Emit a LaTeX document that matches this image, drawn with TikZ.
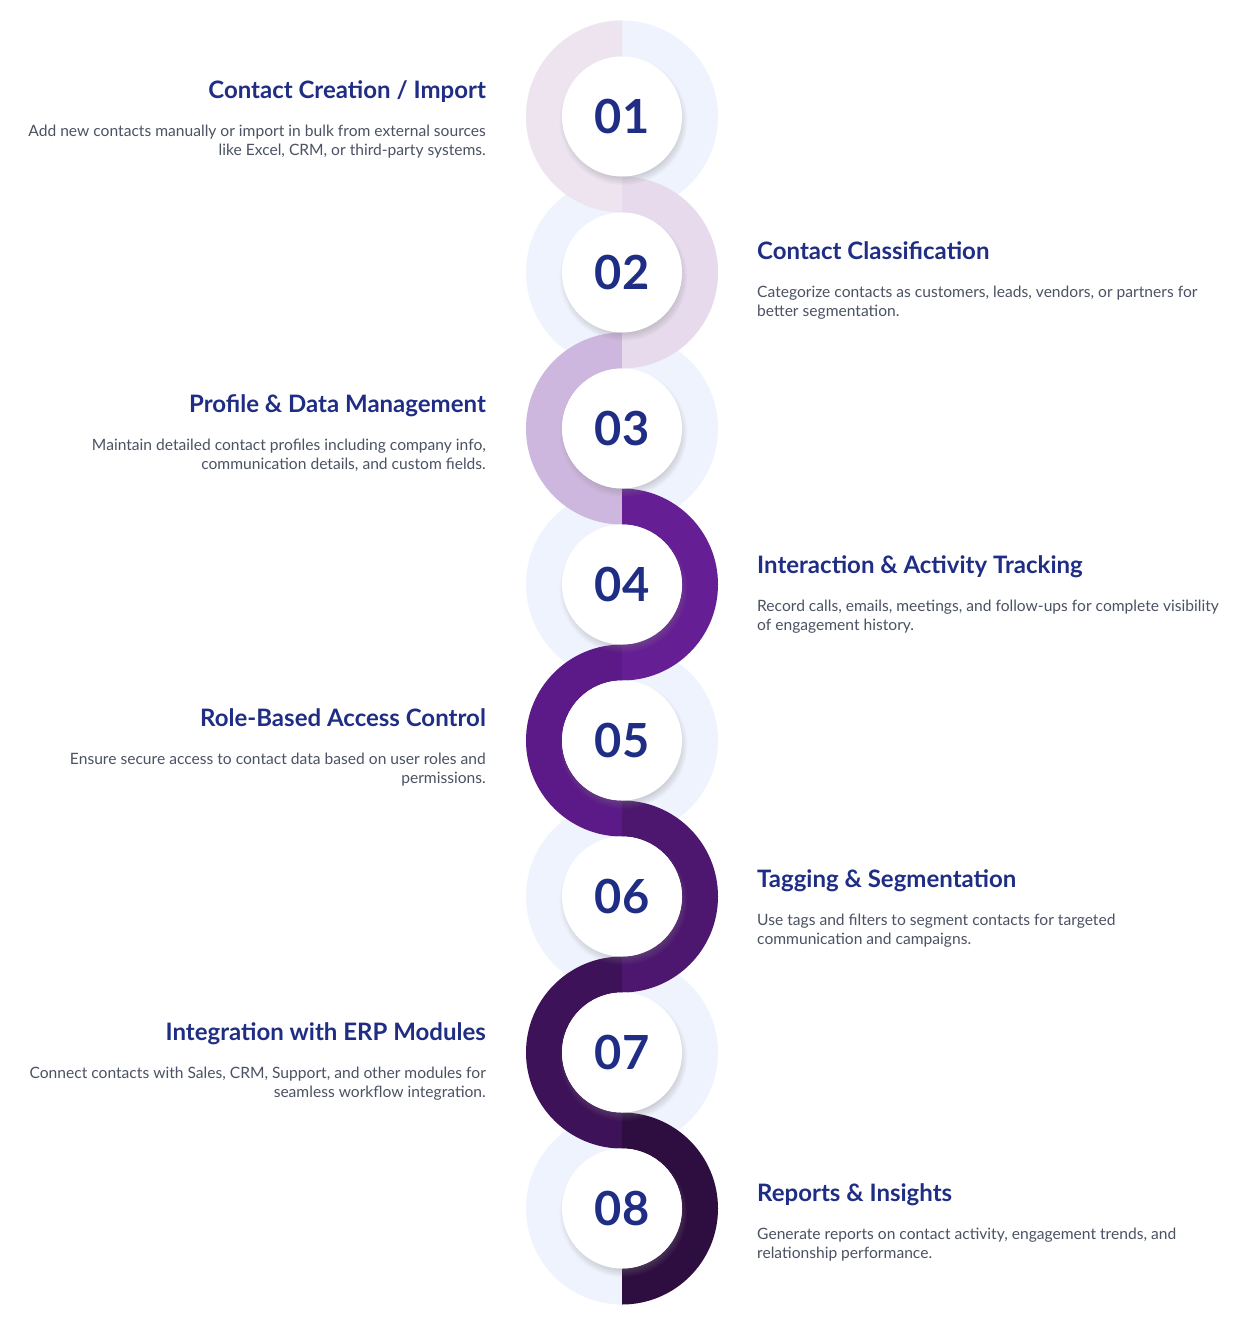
\documentclass[tikz,border=0pt]{standalone}
\usepackage{fontspec}
\setmainfont{Lato}
\usetikzlibrary{shadows,fadings}
\definecolor{pale}{HTML}{EFF3FD}
\definecolor{cA}{HTML}{EDE4F0}
\definecolor{cB}{HTML}{E6DAEC}
\definecolor{cC}{HTML}{CEB7DE}
\definecolor{cD}{HTML}{661E94}
\definecolor{cE}{HTML}{5B1A87}
\definecolor{cF}{HTML}{4D1770}
\definecolor{cG}{HTML}{3E1259}
\definecolor{cH}{HTML}{2E0E40}
\definecolor{navy}{HTML}{1F2E84}
\definecolor{bodygray}{HTML}{4B5263}
\begin{document}
\begin{tikzpicture}[x=1pt,y=1pt,
  numcircle/.style={circle, fill=white, minimum size=120pt, inner sep=0pt,
    font=\fontsize{47}{47}\selectfont\bfseries, text=navy,
    circular drop shadow={shadow xshift=1pt, shadow yshift=-4pt, shadow scale=1.07, opacity=0.35}},
  titletext/.style={inner sep=0pt, font=\fontsize{24}{28}\selectfont\bfseries, text=navy},
  bodytext/.style={inner sep=0pt, font=\fontsize{15.6}{19.5}\selectfont, text=bodygray},
]
\fill[white] (0,0) rectangle (1243,-1325);
\useasboundingbox (0,0) rectangle (1243,-1325);
% pale background rings
\foreach \i in {1,...,8} {
  \pgfmathsetmacro\cy{-(116.5+156*(\i-1))}
  \fill[pale] (622,\cy) circle[radius=96pt];
}
% coloured half rings (left side)
\foreach \i/\col in {1/cA,3/cC,5/cE,7/cG} {
  \pgfmathsetmacro\cy{-(116.5+156*(\i-1))}
  \fill[\col] (622,\cy+96) arc[start angle=90,end angle=270,radius=96pt]
    -- (622,\cy-60) arc[start angle=270,end angle=90,radius=60pt] -- cycle;
}
% coloured half rings (right side)
\foreach \i/\col in {2/cB,4/cD,6/cF,8/cH} {
  \pgfmathsetmacro\cy{-(116.5+156*(\i-1))}
  \fill[\col] (622,\cy+96) arc[start angle=90,end angle=-90,radius=96pt]
    -- (622,\cy-60) arc[start angle=-90,end angle=90,radius=60pt] -- cycle;
}
% number circles
\node[numcircle] (n1) at (622,-116.5) {01};
\node[numcircle] (n2) at (622,-272.5) {02};
\node[numcircle] (n3) at (622,-428.5) {03};
\node[numcircle] (n4) at (622,-584.5) {04};
\node[numcircle] (n5) at (622,-740.5) {05};
\node[numcircle] (n6) at (622,-896.5) {06};
\node[numcircle] (n7) at (622,-1052.5) {07};
\node[numcircle] (n8) at (622,-1208.5) {08};
% step 1
\node[titletext, anchor=base east] (t1) at (486,-98) {Contact Creation / Import};
\node[bodytext, anchor=base east] (b1a) at (486,-136) {Add new contacts manually or import in bulk from external sources};
\node[bodytext, anchor=base east] (b1b) at (486,-155.5) {like Excel, CRM, or third-party systems.};
% step 2
\node[titletext, anchor=base west] (t2) at (757,-259) {Contact Classification};
\node[bodytext, anchor=base west] (b2a) at (757,-297) {Categorize contacts as customers, leads, vendors, or partners for};
\node[bodytext, anchor=base west] (b2b) at (757,-316.5) {better segmentation.};
% step 3
\node[titletext, anchor=base east] (t3) at (486,-412) {Profile \& Data Management};
\node[bodytext, anchor=base east] (b3a) at (486,-450) {Maintain detailed contact profiles including company info,};
\node[bodytext, anchor=base east] (b3b) at (486,-469.5) {communication details, and custom fields.};
% step 4
\node[titletext, anchor=base west] (t4) at (757,-573) {Interaction \& Activity Tracking};
\node[bodytext, anchor=base west] (b4a) at (757,-611) {Record calls, emails, meetings, and follow-ups for complete visibility};
\node[bodytext, anchor=base west] (b4b) at (757,-630.5) {of engagement history.};
% step 5
\node[titletext, anchor=base east] (t5) at (486,-726) {Role-Based Access Control};
\node[bodytext, anchor=base east] (b5a) at (486,-764) {Ensure secure access to contact data based on user roles and};
\node[bodytext, anchor=base east] (b5b) at (486,-783.5) {permissions.};
% step 6
\node[titletext, anchor=base west] (t6) at (757,-887) {Tagging \& Segmentation};
\node[bodytext, anchor=base west] (b6a) at (757,-925) {Use tags and filters to segment contacts for targeted};
\node[bodytext, anchor=base west] (b6b) at (757,-944.5) {communication and campaigns.};
% step 7
\node[titletext, anchor=base east] (t7) at (486,-1040) {Integration with ERP Modules};
\node[bodytext, anchor=base east] (b7a) at (486,-1078) {Connect contacts with Sales, CRM, Support, and other modules for};
\node[bodytext, anchor=base east] (b7b) at (486,-1097.5) {seamless workflow integration.};
% step 8
\node[titletext, anchor=base west] (t8) at (757,-1201) {Reports \& Insights};
\node[bodytext, anchor=base west] (b8a) at (757,-1239) {Generate reports on contact activity, engagement trends, and};
\node[bodytext, anchor=base west] (b8b) at (757,-1258.5) {relationship performance.};
\end{tikzpicture}
\end{document}
